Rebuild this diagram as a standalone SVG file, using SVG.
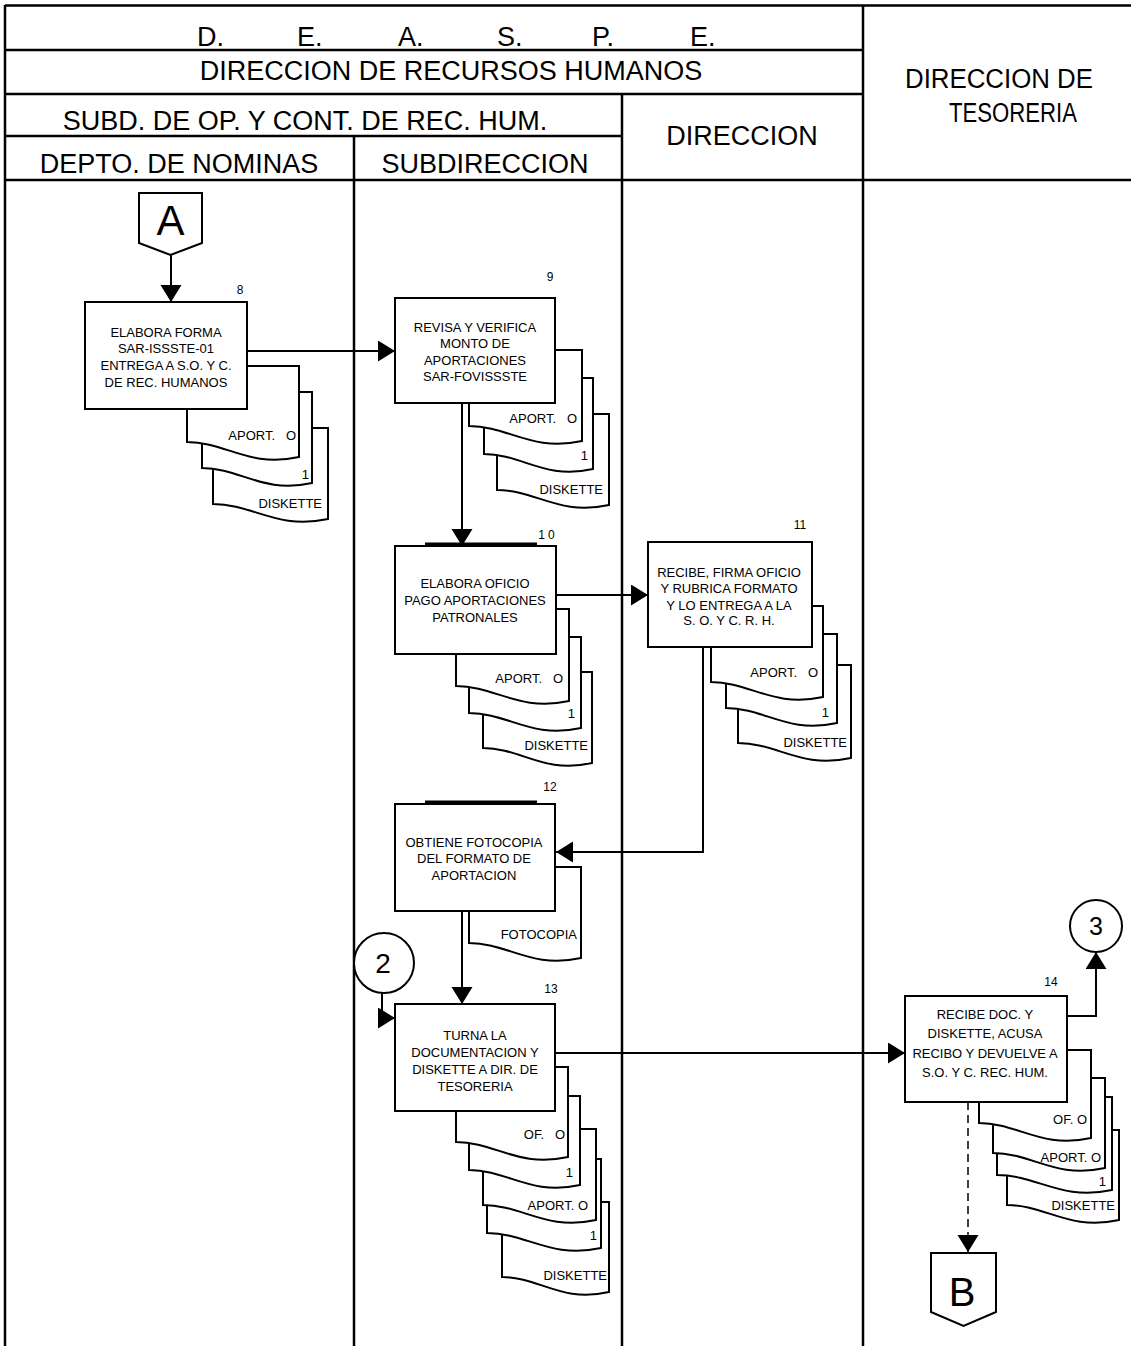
<svg xmlns="http://www.w3.org/2000/svg" width="1131" height="1346" viewBox="0 0 1131 1346">
<style>
.tl{stroke:#000;stroke-width:2.5;fill:none}
.hd{font-family:"Liberation Sans",Arial,sans-serif;font-size:27px;fill:#000}
.c{text-anchor:middle}
.box{fill:#fff;stroke:#000;stroke-width:2}
.doc{fill:#fff;stroke:#000;stroke-width:2}
.bt{font-family:"Liberation Sans",Arial,sans-serif;font-size:13px;text-anchor:middle;fill:#000}
.dt{font-family:"Liberation Sans",Arial,sans-serif;font-size:13px;text-anchor:end;fill:#000}
.num{font-family:"Liberation Sans",Arial,sans-serif;font-size:12px;text-anchor:middle;fill:#000}
.big{font-family:"Liberation Sans",Arial,sans-serif;text-anchor:middle;fill:#000}
.cn{stroke:#000;stroke-width:2;fill:none}
.dash{stroke:#000;stroke-width:1.5;fill:none;stroke-dasharray:8 5}
.bar{stroke:#000;stroke-width:3}
</style>
<defs>
<marker id="ah" markerUnits="userSpaceOnUse" markerWidth="18" markerHeight="22" refX="17" refY="10.5" orient="auto"><path d="M0,0 L17,10.5 L0,21 Z" fill="#000"/></marker>
</defs>
<rect width="1131" height="1346" fill="#fff"/>
<g id="table">
<path class="tl" d="M5,5.5 H1131 M5,5 V1346 M863,5 V1346 M5,50 H863 M5,94 H863 M622,94 V1346 M5,136 H622 M354,136 V1346 M5,180 H1131"/>
<text class="hd" y="46"><tspan x="197">D.</tspan><tspan x="297">E.</tspan><tspan x="398">A.</tspan><tspan x="497">S.</tspan><tspan x="592">P.</tspan><tspan x="690">E.</tspan></text>
<text class="hd c" x="451" y="80">DIRECCION DE RECURSOS HUMANOS</text>
<text class="hd c" x="305" y="130">SUBD. DE OP. Y CONT. DE REC. HUM.</text>
<text class="hd c" x="179" y="173">DEPTO. DE NOMINAS</text>
<text class="hd c" x="485" y="173">SUBDIRECCION</text>
<text class="hd c" x="742" y="145">DIRECCION</text>
<text class="hd" x="905" y="88" textLength="188" lengthAdjust="spacingAndGlyphs">DIRECCION DE</text>
<text class="hd" x="949" y="122" textLength="128" lengthAdjust="spacingAndGlyphs">TESORERIA</text>
</g>
<g id="conA">
<path class="box" d="M139,193 H202 V243 L170.5,255 L139,243 Z"/>
<text class="big" x="170.5" y="235" font-size="42">A</text>
</g>
<g id="n8">
<path class="doc" d="M213,428 H328 V519 C276.3,530 253.3,504 213,504 Z"/>
<path class="doc" d="M202,392 H312 V483 C262.5,494 240.5,468 202,468 Z"/>
<path class="doc" d="M187,366 H299 V457 C248.6,468 226.2,442 187,442 Z"/>
<rect class="box" x="85" y="302" width="162" height="107"/>
<text class="bt" x="166" y="337">ELABORA FORMA</text>
<text class="bt" x="166" y="353">SAR-ISSSTE-01</text>
<text class="bt" x="166" y="370">ENTREGA A S.O. Y C.</text>
<text class="bt" x="166" y="387">DE REC. HUMANOS</text>
<text class="num" x="240" y="294">8</text>
<text class="dt" x="296" y="440" xml:space="preserve">APORT.   O</text>
<text class="dt" x="309" y="479">1</text>
<text class="dt" x="322" y="508">DISKETTE</text>
</g>
<g id="n9">
<path class="doc" d="M497,414 H609 V505 C558.6,516 536.2,490 497,490 Z"/>
<path class="doc" d="M484,378 H593 V469 C543.9,480 522.2,454 484,454 Z"/>
<path class="doc" d="M469,350 H582 V441 C531.2,452 508.6,426 469,426 Z"/>
<rect class="box" x="395" y="298" width="160" height="105"/>
<text class="bt" x="475" y="332">REVISA Y VERIFICA</text>
<text class="bt" x="475" y="348">MONTO DE</text>
<text class="bt" x="475" y="365">APORTACIONES</text>
<text class="bt" x="475" y="381">SAR-FOVISSSTE</text>
<text class="num" x="550" y="281">9</text>
<text class="dt" x="577" y="423" xml:space="preserve">APORT.   O</text>
<text class="dt" x="588" y="460">1</text>
<text class="dt" x="603" y="494">DISKETTE</text>
</g>
<g id="n10">
<path class="doc" d="M483,672 H592 V763 C543,774 521.2,748 483,748 Z"/>
<path class="doc" d="M469,637 H581 V728 C530.6,739 508.2,713 469,713 Z"/>
<path class="doc" d="M456,609 H569 V701 C518.2,712 495.6,686 456,686 Z"/>
<line class="bar" x1="425" y1="544" x2="537" y2="544"/>
<rect class="box" x="395" y="546" width="161" height="108"/>
<text class="bt" x="475" y="588">ELABORA OFICIO</text>
<text class="bt" x="475" y="605">PAGO APORTACIONES</text>
<text class="bt" x="475" y="622">PATRONALES</text>
<text class="num" x="548" y="539" letter-spacing="3">10</text>
<text class="dt" x="563" y="683" xml:space="preserve">APORT.   O</text>
<text class="dt" x="575" y="718">1</text>
<text class="dt" x="588" y="750">DISKETTE</text>
</g>
<g id="n11">
<path class="doc" d="M738,665 H851 V758 C800.2,769 777.6,743 738,743 Z"/>
<path class="doc" d="M726,634 H837 V723 C787,734 764.9,708 726,708 Z"/>
<path class="doc" d="M711,606 H823 V697 C772.6,708 750.2,682 711,682 Z"/>
<rect class="box" x="648" y="542" width="164" height="105"/>
<text class="bt" x="729" y="577">RECIBE, FIRMA OFICIO</text>
<text class="bt" x="729" y="593">Y RUBRICA FORMATO</text>
<text class="bt" x="729" y="610">Y LO ENTREGA A LA</text>
<text class="bt" x="729" y="625">S. O. Y C. R. H.</text>
<text class="num" x="800" y="529">11</text>
<text class="dt" x="818" y="677" xml:space="preserve">APORT.   O</text>
<text class="dt" x="829" y="717">1</text>
<text class="dt" x="847" y="747">DISKETTE</text>
</g>
<g id="n12">
<path class="doc" d="M469,867 H581 V958 C530.6,969 508.2,943 469,943 Z"/>
<line class="bar" x1="425" y1="802" x2="537" y2="802"/>
<rect class="box" x="395" y="804" width="160" height="107"/>
<text class="bt" x="474" y="847">OBTIENE FOTOCOPIA</text>
<text class="bt" x="474" y="863">DEL FORMATO DE</text>
<text class="bt" x="474" y="880">APORTACION</text>
<text class="num" x="550" y="791">12</text>
<text class="dt" x="577" y="939">FOTOCOPIA</text>
</g>
<g id="con2">
<circle class="box" cx="384" cy="963" r="30"/>
<text class="big" x="383" y="973" font-size="28">2</text>
</g>
<g id="n13">
<path class="doc" d="M502,1202 H609 V1292 C560.9,1303 539.5,1277 502,1277 Z"/>
<path class="doc" d="M487,1159 H601 V1248 C549.7,1259 526.9,1233 487,1233 Z"/>
<path class="doc" d="M483,1129 H596 V1220 C545.2,1231 522.6,1205 483,1205 Z"/>
<path class="doc" d="M469,1096 H580 V1185 C530,1196 507.9,1170 469,1170 Z"/>
<path class="doc" d="M456,1067 H568 V1157 C517.6,1168 495.2,1142 456,1142 Z"/>
<rect class="box" x="395" y="1004" width="160" height="107"/>
<text class="bt" x="475" y="1040">TURNA LA</text>
<text class="bt" x="475" y="1057">DOCUMENTACION Y</text>
<text class="bt" x="475" y="1074">DISKETTE A DIR. DE</text>
<text class="bt" x="475" y="1091">TESORERIA</text>
<text class="num" x="551" y="993">13</text>
<text class="dt" x="565" y="1139" xml:space="preserve">OF.   O</text>
<text class="dt" x="573" y="1177">1</text>
<text class="dt" x="588" y="1210">APORT. O</text>
<text class="dt" x="597" y="1240">1</text>
<text class="dt" x="607" y="1280">DISKETTE</text>
</g>
<g id="n14">
<path class="doc" d="M1007,1130 H1119 V1220 C1068.6,1231 1046.2,1205 1007,1205 Z"/>
<path class="doc" d="M997,1097 H1112 V1190 C1060.3,1201 1037.3,1175 997,1175 Z"/>
<path class="doc" d="M993,1078 H1105 V1168 C1054.6,1179 1032.2,1153 993,1153 Z"/>
<path class="doc" d="M979,1050 H1091 V1138 C1040.6,1149 1018.2,1123 979,1123 Z"/>
<rect class="box" x="905" y="996" width="162" height="106"/>
<text class="bt" x="985" y="1019">RECIBE DOC. Y</text>
<text class="bt" x="985" y="1038">DISKETTE, ACUSA</text>
<text class="bt" x="985" y="1058">RECIBO Y DEVUELVE A</text>
<text class="bt" x="985" y="1077">S.O. Y C. REC. HUM.</text>
<text class="num" x="1051" y="986">14</text>
<text class="dt" x="1087" y="1124">OF. O</text>
<text class="dt" x="1101" y="1162">APORT. O</text>
<text class="dt" x="1106" y="1186">1</text>
<text class="dt" x="1115" y="1210">DISKETTE</text>
</g>
<g id="con3">
<circle class="box" cx="1096" cy="926" r="26"/>
<text class="big" x="1096" y="935" font-size="25">3</text>
</g>
<g id="conB">
<path class="box" d="M931,1253 H996 V1312 L963.5,1326 L931,1312 Z"/>
<text class="big" x="962" y="1306" font-size="40">B</text>
</g>
<g id="connectors">
<path class="cn" d="M171,255 V302" marker-end="url(#ah)"/>
<path class="cn" d="M247,351 H395" marker-end="url(#ah)"/>
<path class="cn" d="M462,403 V546" marker-end="url(#ah)"/>
<path class="cn" d="M556,595 H648" marker-end="url(#ah)"/>
<path class="cn" d="M703,647 V852 H556" marker-end="url(#ah)"/>
<path class="cn" d="M462,911 V1004" marker-end="url(#ah)"/>
<path class="cn" d="M382,993 V1018 H395" marker-end="url(#ah)"/>
<path class="cn" d="M555,1053 H905" marker-end="url(#ah)"/>
<path class="cn" d="M1067,1016 H1096 V952" marker-end="url(#ah)"/>
<path class="dash" d="M968,1102 V1252" marker-end="url(#ah)"/>
</g>
</svg>
